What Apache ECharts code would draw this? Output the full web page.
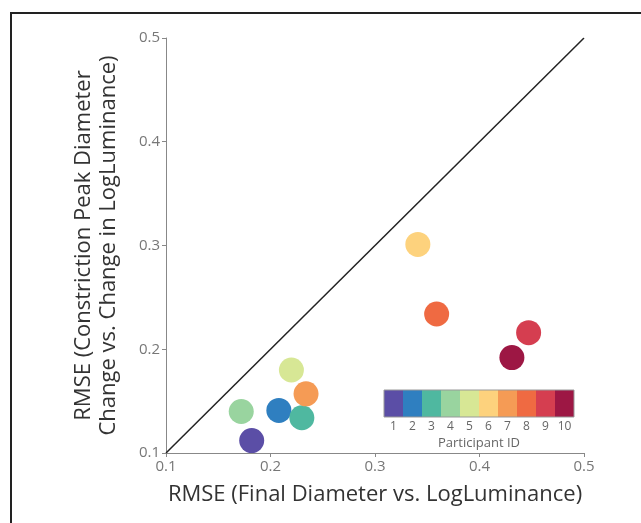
<!DOCTYPE html>
<html>
<head>
<meta charset="utf-8">
<script src="https://cdn.jsdelivr.net/npm/echarts@6/dist/echarts.min.js"></script>
<style>
html,body{margin:0;padding:0;background:#fff;}
#c{width:641px;height:523px;}
</style>
</head>
<body>
<div id="c"></div>
<script>
const participantIds = ['1','2','3','4','5','6','7','8','9','10'];
const finalDiameterRMSE = [0.182, 0.208, 0.230, 0.172, 0.220, 0.341, 0.234, 0.359, 0.447, 0.431];
const constrictionRMSE  = [0.112, 0.141, 0.134, 0.140, 0.180, 0.301, 0.157, 0.234, 0.216, 0.192];
const participantColors = ['#5b4ea6','#2f7fc0','#4fb8a0','#99d49f','#d7e795','#fdd27d','#f59b55','#ef6a42','#d53e50','#9d1744'];
const identityLine = [[0.1, 0.1], [0.5, 0.5]];
const axisTicks = [0.1, 0.2, 0.3, 0.4, 0.5];

const chart = echarts.init(document.getElementById('c'));
const font = 'Open Sans';
chart.setOption({
  animation: false,
  backgroundColor: '#fff',
  textStyle: { fontFamily: font },
  graphic: [{
    type: 'rect', silent: true, z: -1,
    shape: { x: 11, y: 13, width: 900, height: 900 },
    style: { fill: 'none', stroke: '#222', lineWidth: 2 }
  }],
  grid: [
    { left: 166, top: 38, right: 57, bottom: 70 },
    { left: 384, top: 390, width: 190, height: 27, show: true, borderColor: '#999', borderWidth: 1, z: 5 }
  ],
  xAxis: [{
    type: 'value', min: 0.1, max: 0.5, interval: 0.1, gridIndex: 0,
    name: 'RMSE (Final Diameter vs. LogLuminance)',
    nameLocation: 'middle', nameGap: 31,
    nameTextStyle: { fontSize: 22, color: '#333', fontFamily: font },
    axisLine: { lineStyle: { color: '#888', width: 1 } },
    axisTick: { show: true, length: 4, lineStyle: { color: '#888' } },
    axisLabel: { color: '#777', fontSize: 15, margin: 6, formatter: v => axisTicks.includes(+v.toFixed(1)) ? v.toFixed(1) : '' },
    splitLine: { show: false }
  }, {
    type: 'category', gridIndex: 1, data: participantIds,
    name: 'Participant ID', nameLocation: 'middle', nameGap: 20,
    nameTextStyle: { fontSize: 13, color: '#666', fontFamily: font },
    axisLine: { show: false },
    axisTick: { show: true, alignWithLabel: true, inside: true, length: 2, lineStyle: { color: '#777' } },
    axisLabel: { color: '#666', fontSize: 12, margin: 4 }
  }],
  yAxis: [{
    type: 'value', min: 0.1, max: 0.5, interval: 0.1, gridIndex: 0,
    name: 'RMSE (Constriction Peak Diameter\nChange vs. Change in LogLuminance)',
    nameLocation: 'middle', nameGap: 45,
    nameTextStyle: { fontSize: 22, color: '#333', lineHeight: 25, fontFamily: font },
    axisLine: { show: true, lineStyle: { color: '#888', width: 1 } },
    axisTick: { show: true, length: 4, lineStyle: { color: '#888' } },
    axisLabel: { color: '#777', fontSize: 15, margin: 6, formatter: v => v.toFixed(1) },
    splitLine: { show: false }
  }, {
    type: 'value', gridIndex: 1, min: 0, max: 1, show: false
  }],
  series: [{
    type: 'line', xAxisIndex: 0, yAxisIndex: 0,
    data: identityLine, symbol: 'none',
    lineStyle: { color: '#222', width: 1.5 }
  }, {
    type: 'scatter', xAxisIndex: 0, yAxisIndex: 0,
    symbolSize: 25, z: 3,
    data: finalDiameterRMSE.map((x, i) => ({
      value: [x, constrictionRMSE[i]],
      itemStyle: { color: participantColors[i], opacity: 1 }
    }))
  }, {
    type: 'bar', xAxisIndex: 1, yAxisIndex: 1,
    barCategoryGap: 0, barWidth: '100%',
    data: participantIds.map((id, i) => ({ value: 1, itemStyle: { color: participantColors[i] } }))
  }]
});
</script>
</body>
</html>
